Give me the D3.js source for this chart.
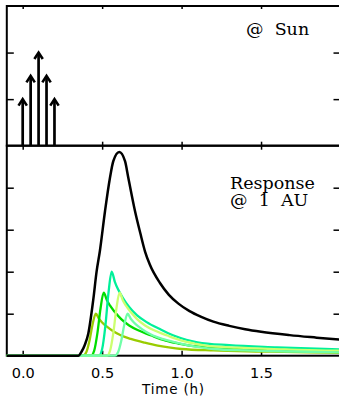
<!DOCTYPE html>
<html><head><meta charset="utf-8">
<script src="https://cdn.jsdelivr.net/npm/d3@7"></script>
<style>body{margin:0;background:#fff}svg{display:block}</style>
</head><body><div id="chart"></div>
<script>
// ---- data ----
const xTicks = [0, 0.5, 1.0, 1.5, 2.0];
const xTickLabels = ["0.0", "0.5", "1.0", "1.5"];
const topYTicks = [1, 2];
const botYTicks = [1, 2, 3, 4];
const injectTimes = [0, 0.05, 0.10, 0.15, 0.20];
const injectAmps = [1, 1.5, 2, 1.5, 1];
const seriesColors = ["#99cc00", "#00dd00", "#00f09a", "#ccff70", "#70ffa8"];
const s1 = [[-0.1,0],[0.38,0],[0.40,0.08],[0.42,0.35],[0.44,0.75],[0.46,1.0],[0.48,0.88],[0.50,0.79],[0.53,0.69],[0.57,0.58],[0.62,0.48],[0.68,0.40],[0.76,0.32],[0.85,0.24],[0.93,0.19],[1.0,0.16],[1.2,0.125],[1.5,0.1],[1.8,0.08],[2.0,0.07]];
const s2 = [[-0.1,0],[0.43,0],[0.45,0.12],[0.47,0.53],[0.49,1.13],[0.51,1.5],[0.53,1.32],[0.55,1.19],[0.58,1.04],[0.62,0.87],[0.67,0.72],[0.73,0.6],[0.81,0.48],[0.90,0.36],[0.98,0.29],[1.05,0.24],[1.25,0.19],[1.55,0.15],[1.85,0.12],[2.0,0.11]];
const s3 = [[-0.1,0],[0.48,0],[0.50,0.16],[0.52,0.7],[0.54,1.5],[0.56,2.0],[0.58,1.76],[0.60,1.58],[0.63,1.38],[0.67,1.16],[0.72,0.96],[0.78,0.8],[0.86,0.64],[0.95,0.48],[1.03,0.38],[1.1,0.32],[1.3,0.25],[1.6,0.2],[1.9,0.16],[2.0,0.15]];
const s4 = [[-0.1,0],[0.53,0],[0.55,0.12],[0.57,0.53],[0.59,1.13],[0.61,1.5],[0.63,1.32],[0.65,1.19],[0.68,1.04],[0.72,0.87],[0.77,0.72],[0.83,0.6],[0.91,0.48],[1.0,0.36],[1.08,0.29],[1.15,0.24],[1.35,0.19],[1.65,0.15],[1.95,0.12],[2.0,0.12]];
const s5 = [[-0.1,0],[0.58,0],[0.60,0.08],[0.62,0.35],[0.64,0.75],[0.66,1.0],[0.68,0.88],[0.70,0.79],[0.73,0.69],[0.77,0.58],[0.82,0.48],[0.88,0.40],[0.96,0.32],[1.05,0.24],[1.13,0.19],[1.2,0.16],[1.4,0.125],[1.7,0.1],[2.0,0.08]];
const total = [[-0.1,0],[0.35,0],[0.371,0.1],[0.39,0.25],[0.413,0.53],[0.444,1.33],[0.465,2.0],[0.486,2.5],[0.518,3.44],[0.549,4.23],[0.57,4.63],[0.608,4.85],[0.644,4.63],[0.665,4.23],[0.707,3.44],[0.74,2.92],[0.77,2.48],[0.80,2.17],[0.864,1.73],[0.92,1.45],[0.98,1.24],[1.05,1.06],[1.12,0.93],[1.2,0.81],[1.3,0.71],[1.4,0.63],[1.5,0.57],[1.68,0.49],[1.85,0.43],[2.0,0.38]];
const responseSeries = [s1, s2, s3, s4, s5];

// ---- layout ----
const W = 339, H = 398;
const L = 6.8, R = 340.5, T1 = 6, B1 = 145.7, B2 = 355.7;
const svg = d3.select("#chart").append("svg").attr("width", W).attr("height", H);

const x = d3.scaleLinear().domain([-0.1, 2.0]).range([L, R]);
const yTop = d3.scaleLinear().domain([0, 3]).range([B1, T1]);
const yBot = d3.scaleLinear().domain([0, 5]).range([B2, B1]);

function styleAxis(g) {
  g.select(".domain").remove();
  g.selectAll(".tick line").attr("stroke", "#000").attr("stroke-width", 1.5);
}

// top panel axes
svg.append("g").attr("transform", `translate(0,${T1})`)
  .call(d3.axisTop(x).tickValues(xTicks).tickSize(-3).tickFormat("")).call(styleAxis);
svg.append("g").attr("transform", `translate(0,${B1})`)
  .call(d3.axisBottom(x).tickValues(xTicks).tickSize(-4).tickFormat("")).call(styleAxis);
svg.append("g").attr("transform", `translate(${L},0)`)
  .call(d3.axisLeft(yTop).tickValues(topYTicks).tickSize(-7).tickFormat("")).call(styleAxis);
svg.append("g").attr("transform", `translate(${R},0)`)
  .call(d3.axisRight(yTop).tickValues(topYTicks).tickSize(-7).tickFormat("")).call(styleAxis);

// bottom panel axes
svg.append("g").attr("transform", `translate(0,${B1})`)
  .call(d3.axisTop(x).tickValues(xTicks).tickSize(-4).tickFormat("")).call(styleAxis);
const xb = svg.append("g").attr("transform", `translate(0,${B2})`)
  .call(d3.axisBottom(x).tickValues(xTicks).tickSize(-5).tickPadding(12)
    .tickFormat((d, i) => xTickLabels[i] || "")).call(styleAxis);
xb.selectAll("text").attr("font-family", "DejaVu Sans").attr("font-size", 14.5).attr("fill", "#000");
svg.append("g").attr("transform", `translate(${L},0)`)
  .call(d3.axisLeft(yBot).tickValues(botYTicks).tickSize(-7).tickFormat("")).call(styleAxis);
svg.append("g").attr("transform", `translate(${R},0)`)
  .call(d3.axisRight(yBot).tickValues(botYTicks).tickSize(-7).tickFormat("")).call(styleAxis);

// frames
svg.append("rect").attr("x", L).attr("y", T1).attr("width", R - L).attr("height", B1 - T1)
  .attr("fill", "none").attr("stroke", "#000").attr("stroke-width", 2);
svg.append("rect").attr("x", L).attr("y", B1).attr("width", R - L).attr("height", B2 - B1)
  .attr("fill", "none").attr("stroke", "#000").attr("stroke-width", 2);

// arrows (top panel)
const arr = svg.append("g");
injectTimes.forEach((t, i) => {
  const xp = x(t), yt = yTop(injectAmps[i]);
  arr.append("line").attr("x1", xp).attr("x2", xp).attr("y1", B1).attr("y2", yt + 1)
    .attr("stroke", "#000").attr("stroke-width", 2.7);
  arr.append("path").attr("d", `M${xp - 4.2},${yt + 6.5}L${xp},${yt}L${xp + 4.2},${yt + 6.5}`)
    .attr("fill", "none").attr("stroke", "#000").attr("stroke-width", 2.6).attr("stroke-linejoin", "miter");
});

// response curves
const line = d3.line().x(d => x(d[0])).y(d => yBot(d[1])).curve(d3.curveMonotoneX);
responseSeries.forEach((s, i) => {
  svg.append("path").datum(s).attr("d", line).attr("fill", "none")
    .attr("stroke", seriesColors[i]).attr("stroke-width", 2.3);
});
svg.append("path").datum(total).attr("d", line).attr("fill", "none")
  .attr("stroke", "#000").attr("stroke-width", 2.5);

// labels
svg.append("text").attr("x", 246).attr("y", 35).attr("font-family", "DejaVu Serif")
  .attr("font-size", 17.5).attr("xml:space", "preserve").text("@  Sun");
svg.append("text").attr("x", 230).attr("y", 189).attr("font-family", "DejaVu Serif")
  .attr("font-size", 17.5).text("Response");
svg.append("text").attr("x", 230).attr("y", 206).attr("font-family", "DejaVu Serif")
  .attr("font-size", 17.5).attr("xml:space", "preserve").text("@  1  AU");
svg.append("text").attr("x", 173.5).attr("y", 394).attr("text-anchor", "middle")
  .attr("font-family", "DejaVu Sans").attr("font-size", 13.5).attr("letter-spacing", 0.8)
  .text("Time (h)");
</script></body></html>
